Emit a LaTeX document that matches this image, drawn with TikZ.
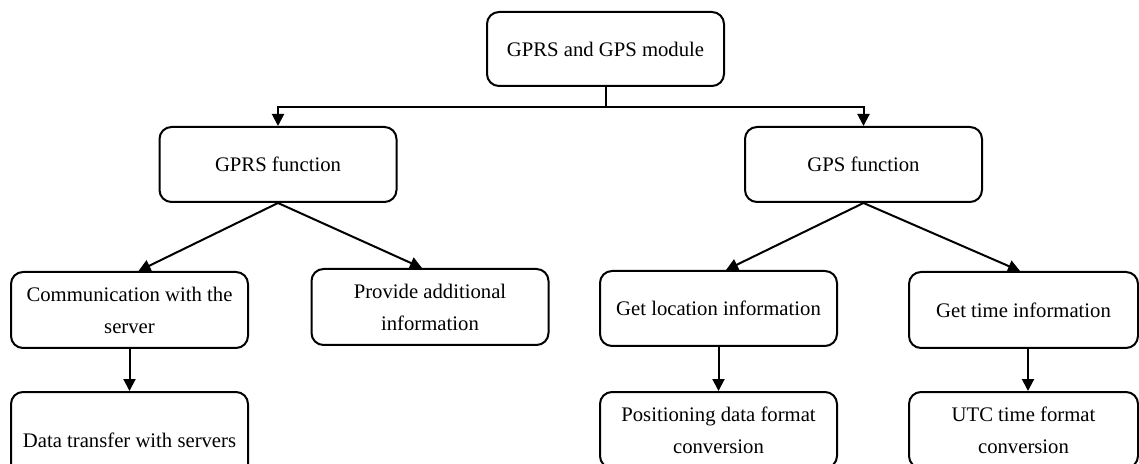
\documentclass[tikz,border=0pt]{standalone}
\usepackage{fontspec}
\setmainfont{Liberation Serif}
\usepackage{tikz}
\usetikzlibrary{arrows.meta, positioning}
\tikzset{
  blk/.style={rectangle, draw=black, line width=1pt, rounded corners=6pt,
              minimum width=118.5pt, minimum height=37.5pt, inner sep=0pt,
              align=center, font=\fontsize{10.35}{16}\selectfont},
  arc/.style={-{Triangle[length=6pt, width=6pt]}, line width=1pt}
}
\begin{document}
\begin{tikzpicture}[x=0.5pt, y=-0.5pt]
  \useasboundingbox (0,0) rectangle (1139,464);
  % top level
  \node[blk, minimum height=37pt] (mod) at (605.5,49) {GPRS and GPS module};
  \node[blk] (gprs) at (278,164.5) {GPRS function};
  \node[blk] (gps) at (863.5,164.5) {GPS function};
  % second level
  \node[blk, minimum height=38pt] (comm) at (129.5,310) {Communication with the\\server};
  \node[blk, minimum height=38pt] (prov) at (430,307) {Provide additional\\information};
  \node[blk] (loc) at (718.5,308.5) {Get location information};
  \node[blk, minimum width=114.5pt, minimum height=38pt] (time) at (1023.5,310) {Get time information};
  % third level (cut by the page edge)
  \node[blk, minimum height=48pt] (data) at (129.5,440) {Data transfer with servers};
  \node[blk, minimum height=38pt] (pos) at (718.5,430) {Positioning data format\\conversion};
  \node[blk, minimum width=114.5pt, minimum height=38pt] (utc) at (1023.5,430) {UTC time format\\conversion};

  \coordinate (split) at (605.5,107);
  \draw[line width=1pt] (mod.south) -- (split);
  \draw[arc] (split) -| (gprs.north);
  \draw[arc] (split) -| (gps.north);

  \draw[arc] (gprs.south) -- ([xshift=4.5pt]comm.north);
  \draw[arc] (gprs.south) -- ([xshift=-4pt]prov.north);
  \draw[arc] (gps.south) -- ([xshift=3.75pt]loc.north);
  \draw[arc] (gps.south) -- ([xshift=-1.75pt]time.north);

  \draw[arc] (comm.south) -- (data.north);
  \draw[arc] (loc.south) -- (pos.north);
  \draw[arc] ([xshift=2.25pt]time.south) -- ([xshift=2.25pt]utc.north);
\end{tikzpicture}
\end{document}
